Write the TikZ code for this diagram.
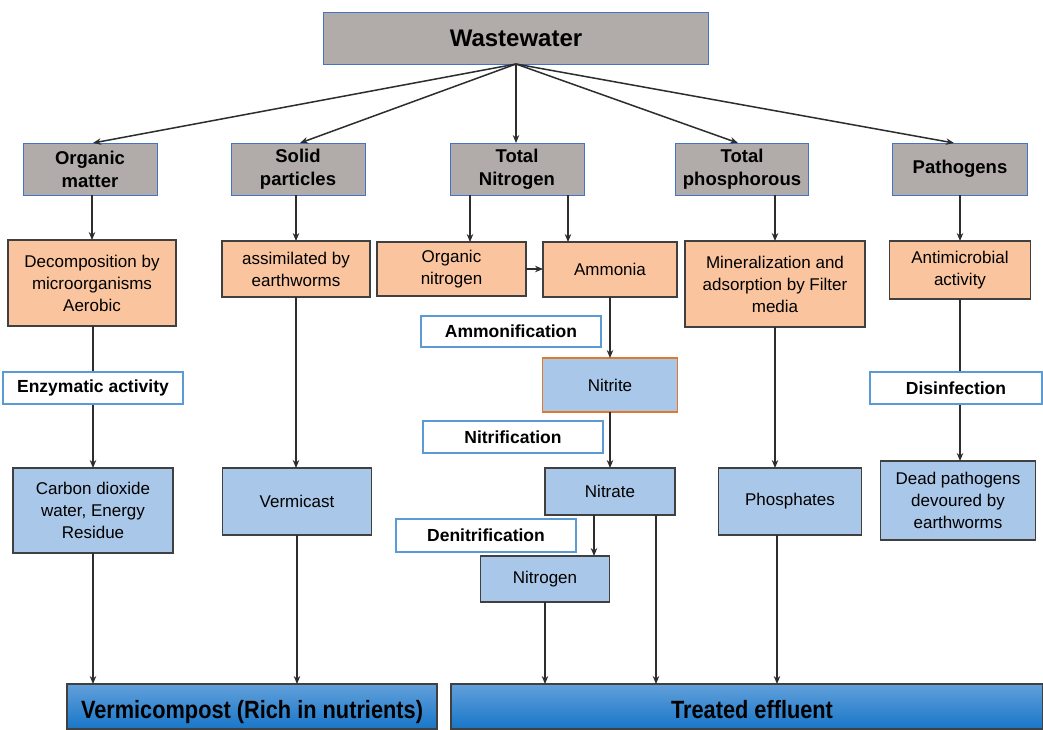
\documentclass[tikz,border=0pt]{standalone}
\usepackage{fontspec}
\setmainfont{Liberation Sans}
\newfontfamily\barfont[FakeStretch=0.87]{Liberation Sans}
\usetikzlibrary{calc,arrows.meta}
\definecolor{hdgray}{RGB}{177,172,170}
\definecolor{hdborder}{RGB}{68,114,196}
\definecolor{peach}{RGB}{250,196,158}
\definecolor{lblue}{RGB}{169,199,232}
\definecolor{lblborder}{RGB}{91,155,213}
\definecolor{nitborder}{RGB}{224,120,46}
\definecolor{boxborder}{RGB}{64,64,64}
\definecolor{lineclr}{RGB}{45,45,45}
\definecolor{bartop}{RGB}{98,160,218}
\definecolor{barbot}{RGB}{24,118,200}
\tikzset{
  base/.style={inner sep=0pt, outer sep=0pt, align=center, text=black},
  head/.style={base, fill=hdgray, draw=hdborder, line width=1pt,
    font=\fontsize{18.5}{23}\selectfont\bfseries},
  proc/.style={base, fill=peach, draw=boxborder, line width=1.1pt,
    font=\fontsize{17}{22}\selectfont},
  res/.style={base, fill=lblue, draw=boxborder, line width=1.1pt,
    font=\fontsize{17}{22}\selectfont},
  lbl/.style={base, fill=white, draw=lblborder, line width=1.5pt,
    font=\fontsize{17.5}{22}\selectfont\bfseries},
  outbar/.style={base, draw=boxborder, line width=1.1pt, top color=bartop, bottom color=barbot,
    text height=29pt, text depth=6pt,
    font=\fontsize{25}{28}\selectfont\barfont\bfseries},
  arr/.style={draw=lineclr, line width=1.5pt, -{Stealth[length=8pt,width=6.5pt]}},
}
\begin{document}
\begin{tikzpicture}[x=1pt,y=-1pt]
\useasboundingbox[fill=white] (0,0) rectangle (1043,729);
% top
\node[head, minimum width=385, minimum height=52, font=\fontsize{24}{28}\selectfont\bfseries] (ww) at (516,38) {Wastewater};
\node[head, minimum width=134, minimum height=52] (om) at (90,169) {Organic\\matter};
\node[head, minimum width=134, minimum height=52] (sp) at (298,169) {Solid\\particles};
\node[head, minimum width=134, minimum height=52] (tn) at (517,169) {Total\\Nitrogen};
\node[head, minimum width=133, minimum height=52] (tp) at (742,169) {Total\\phosphorous};
\node[head, minimum width=135, minimum height=52] (pa) at (960,169) {Pathogens};
% process boxes
\node[proc, minimum width=168, minimum height=86] (dec) at (92,283) {Decomposition by\\microorganisms\\Aerobic};
\node[proc, minimum width=148, minimum height=56] (asm) at (296,269) {assimilated by\\earthworms};
\node[proc, minimum width=149, minimum height=54] (on) at (451.5,269) {Organic\\nitrogen};
\node[proc, minimum width=134, minimum height=55] (am) at (610,269.5) {Ammonia};
\node[proc, minimum width=180, minimum height=86] (mi) at (775,284) {Mineralization and\\adsorption by Filter\\media};
\node[proc, minimum width=141, minimum height=58] (an) at (960,270) {Antimicrobial\\activity};
% result boxes
\node[res, draw=nitborder, line width=1.4pt, minimum width=135, minimum height=54] (ni) at (610,385) {Nitrite};
\node[res, minimum width=160, minimum height=85] (co) at (93,510.5) {Carbon dioxide\\water, Energy\\Residue};
\node[res, minimum width=149, minimum height=67] (vc) at (297,501.5) {Vermicast};
\node[res, minimum width=130, minimum height=47] (nt) at (610,491.5) {Nitrate};
\node[res, minimum width=143, minimum height=67] (ph) at (790,501.5) {Phosphates};
\node[res, minimum width=155, minimum height=79] (dp) at (958,500.5) {Dead pathogens\\devoured by\\earthworms};
\node[res, minimum width=129, minimum height=46] (ng) at (545,579) {Nitrogen};
% output bars
\node[outbar, minimum width=370, minimum height=45] (vcp) at (252,706.5) {Vermicompost (Rich in nutrients)};
\node[outbar, minimum width=592, minimum height=45] (te) at (747,706.5) {\hspace{10pt}Treated effluent};
% connectors
\draw[arr] (ww.south) -- ($(om.north)+(3,0)$);
\draw[arr] (ww.south) -- ($(sp.north)+(2,0)$);
\draw[arr] (ww.south) -- (ww.south |- tn.north);
\draw[arr] (ww.south) -- ($(tp.north)+(-4,0)$);
\draw[arr] (ww.south) -- ($(pa.north)+(-6,0)$);
\draw[arr] (dec.north |- om.south) -- (dec.north);
\draw[arr] (asm.north |- sp.south) -- (asm.north);
\path ($(tn.south west)+(20,0)$) coordinate (tn1);
\draw[arr] (tn1) -- (tn1 |- on.north);
\path ($(tn.south west)+(118,0)$) coordinate (tn2);
\draw[arr] (tn2) -- (tn2 |- am.north);
\draw[arr] (on.east) -- (on.east -| am.west);
\draw[arr] (tp.south -| mi.north) -- (mi.north);
\draw[arr] (an.north |- pa.south) -- (an.north);
\draw[arr] ($(dec.south)+(1,0)$) coordinate (d1) -- (d1 |- co.north);
\draw[arr] (asm.south) -- (asm.south |- vc.north);
\draw[arr] (am.south) -- (am.south |- ni.north);
\draw[arr] (ni.south) -- (ni.south |- nt.north);
\path ($(nt.south west)+(49,0)$) coordinate (nt1);
\draw[arr] (nt1) -- (nt1 |- ng.north);
\path ($(nt.south west)+(111,0)$) coordinate (nt2);
\draw[arr] (nt2) -- (nt2 |- te.north);
\draw[arr] (ng.south) -- (ng.south |- te.north);
\draw[arr] (mi.south) -- (mi.south |- ph.north);
\path ($(ph.south west)+(58.5,0)$) coordinate (ph1);
\draw[arr] (ph1) -- (ph1 |- te.north);
\draw[arr] (an.south) -- (an.south |- dp.north);
\draw[arr] (co.south) -- (co.south |- vcp.north);
\draw[arr] (vc.south) -- (vc.south |- vcp.north);
% process labels
\node[lbl, minimum width=180, minimum height=32] (ea) at (93,388) {Enzymatic activity};
\node[lbl, minimum width=180, minimum height=31] (amf) at (511,331.5) {Ammonification};
\node[lbl, minimum width=180, minimum height=32] (nif) at (513,437) {Nitrification};
\node[lbl, minimum width=180, minimum height=33] (dnf) at (486,535.5) {Denitrification};
\node[lbl, minimum width=172, minimum height=32] (dis) at (956,388) {Disinfection};
\end{tikzpicture}
\end{document}
